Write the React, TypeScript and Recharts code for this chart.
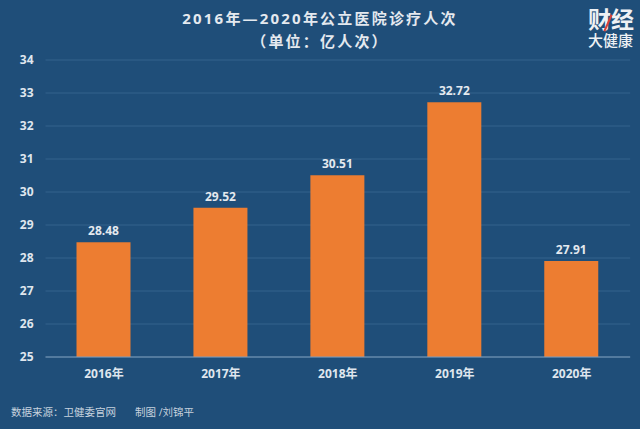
import React from "react";
import { BarChart, Bar, XAxis, YAxis, CartesianGrid, LabelList } from "recharts";

const categories = ["2016年", "2017年", "2018年", "2019年", "2020年"];
const visits = [28.48, 29.52, 30.51, 32.72, 27.91];
const yTicks = [25, 26, 27, 28, 29, 30, 31, 32, 33, 34];
const titleLines = ["2016年—2020年公立医院诊疗人次", "（单位：亿人次）"];
const sourceText = "数据来源：卫健委官网";
const authorText = "制图 /刘锦平";

const data = categories.map((c, i) => ({ year: c, value: visits[i] }));
const font = '"Open Sans", "Noto Sans CJK SC", sans-serif';
const txt: React.CSSProperties = { position: "absolute", fontFamily: font, whiteSpace: "pre", lineHeight: 1 };

export default function App() {
  return (
    <div style={{ position: "absolute", left: 0, top: 0, width: 640, height: 429, background: "#1f4e79", overflow: "hidden" }}>
      <div style={{ ...txt, left: 0, width: 640, textAlign: "center", top: 11, fontSize: 15, fontWeight: 700, color: "#e4e9ef", letterSpacing: 2.2 }}>{titleLines[0]}</div>
      <div style={{ ...txt, left: 0, width: 640, textAlign: "center", top: 34, fontSize: 15, fontWeight: 700, color: "#e4e9ef", letterSpacing: 2.2 }}>{titleLines[1]}</div>
      <BarChart
        width={640}
        height={429}
        data={data}
        margin={{ top: 60, right: 9.8, bottom: 42, left: 0 }}
        style={{ position: "absolute", left: 0, top: 0 }}
      >
        <CartesianGrid vertical={false} stroke="#34628d" strokeWidth={1} />
        <XAxis
          dataKey="year"
          axisLine={{ stroke: "#7f9dbb", strokeWidth: 1 }}
          tickLine={false}
          tickMargin={6}
          tick={{ fill: "#dfe6ee", fontSize: 12, fontWeight: 700, fontFamily: font }}
          interval={0}
        />
        <YAxis
          width={45.5}
          domain={[25, 34]}
          ticks={yTicks}
          allowDataOverflow
          axisLine={false}
          tickLine={false}
          tickMargin={6}
          tick={{ fill: "#dfe6ee", fontSize: 12, fontWeight: 700, fontFamily: font }}
        />
        <Bar dataKey="value" fill="#ed7d31" barSize={54} isAnimationActive={false}>
          <LabelList
            dataKey="value"
            position="top"
            offset={7}
            formatter={(v: number) => v.toFixed(2)}
            style={{ fill: "#e4e9ef", fontSize: 12, fontWeight: 700, fontFamily: font }}
          />
        </Bar>
      </BarChart>
      <div style={{ ...txt, left: 11, top: 407, fontSize: 10.5, color: "#c6d2de" }}>{sourceText}</div>
      <div style={{ ...txt, left: 135, top: 407, fontSize: 10.5, color: "#c6d2de" }}>{authorText}</div>
      <div style={{ ...txt, left: 588, top: 6, fontSize: 23, lineHeight: "26px", fontWeight: 700, color: "#eef1f4" }}>财经</div>
      <div style={{ ...txt, left: 588, top: 33, fontSize: 15, fontWeight: 500, color: "#eef1f4" }}>大健康</div>
      <div style={{ position: "absolute", left: 607, top: 14, width: 2, height: 18, background: "#d8413a", transform: "rotate(24deg)" }} />
    </div>
  );
}
